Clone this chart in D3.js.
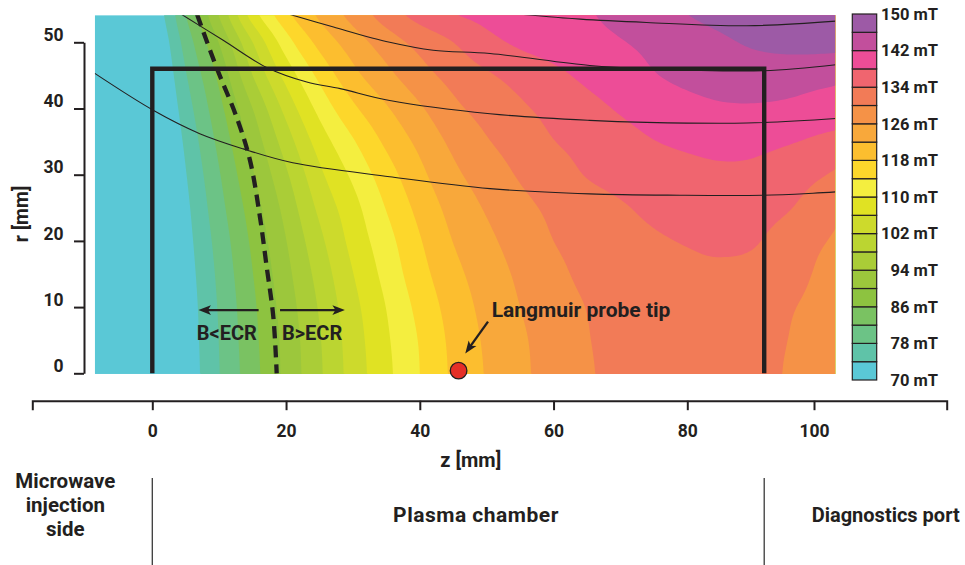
<!DOCTYPE html>
<html>
<head>
<meta charset="utf-8">
<script src="https://cdn.jsdelivr.net/npm/d3@7"></script>
<style>
    body { margin: 0; background: #fff; }
    svg { display: block; font-family: Roboto, "Open Sans", sans-serif; font-weight: 700; }
</style>
</head>
<body>
<svg id="chart" width="965" height="565"></svg>
<script>
// grid of the field map, z along the axis and r radius, both in mm
const zGrid = [-10, -5, 0, 5, 10, 15, 20, 25, 30, 35, 40, 45, 50, 55, 60, 65, 70, 75, 80, 85, 90, 95, 100, 105]
const rGrid = [0, 5, 10, 15, 20, 25, 30, 35, 40, 45, 50, 55]

// |B| in mT, one row per r value
const fieldB = [
    [56.4, 60.4, 64.4, 71.1, 77.9, 84.5, 91.1, 97.4, 103.7, 109.0, 114.0, 118.7, 122.3, 125.2, 127.5, 129.6, 131.0, 132.0, 132.5, 132.5, 131.8, 129.7, 128.5, 127.5],
    [56.6, 60.6, 64.6, 71.3, 78.1, 84.8, 91.3, 97.7, 104.0, 109.4, 114.3, 119.0, 122.6, 125.4, 127.7, 129.8, 131.2, 132.2, 132.7, 132.7, 132.0, 130.0, 128.8, 127.8],
    [56.6, 60.6, 64.6, 71.5, 78.4, 85.2, 91.9, 98.4, 104.7, 110.1, 115.2, 119.7, 123.2, 126.0, 128.2, 130.1, 131.6, 132.5, 133.0, 133.0, 132.3, 130.4, 129.1, 128.2],
    [56.8, 60.8, 64.8, 71.9, 78.9, 85.9, 92.8, 99.5, 105.9, 111.3, 116.5, 120.8, 124.0, 126.7, 129.0, 130.9, 132.2, 133.0, 133.4, 133.5, 133.0, 131.5, 129.5, 128.5],
    [57.0, 61.0, 65.0, 72.4, 79.6, 86.8, 93.9, 101.0, 107.3, 112.5, 117.7, 122.1, 125.1, 127.7, 130.0, 131.4, 132.7, 133.6, 134.2, 134.6, 134.3, 132.3, 130.3, 129.0],
    [57.5, 61.5, 65.5, 73.0, 80.6, 88.0, 95.4, 102.9, 108.6, 114.2, 119.2, 123.4, 126.4, 128.9, 130.8, 132.2, 133.6, 134.8, 135.6, 136.0, 135.6, 134.3, 131.9, 129.9],
    [57.8, 61.8, 65.8, 73.8, 81.7, 89.6, 97.4, 105.1, 110.8, 116.2, 121.0, 125.1, 127.9, 130.4, 132.3, 134.2, 135.4, 136.3, 137.0, 137.4, 137.2, 136.0, 134.3, 132.6],
    [58.3, 62.3, 66.3, 74.8, 83.1, 91.5, 100.0, 107.8, 113.6, 118.8, 123.0, 126.9, 129.7, 131.8, 133.9, 135.2, 136.6, 137.9, 138.6, 139.0, 138.9, 138.3, 137.3, 136.5],
    [59.1, 63.1, 67.1, 76.1, 84.8, 94.0, 103.3, 111.2, 117.2, 121.6, 125.5, 129.1, 131.4, 133.4, 135.2, 136.8, 138.4, 139.8, 140.8, 141.5, 141.6, 141.2, 140.3, 139.8],
    [59.9, 63.9, 67.9, 77.7, 87.0, 98.0, 107.4, 115.0, 120.8, 124.9, 128.5, 131.3, 133.5, 135.4, 137.1, 138.8, 140.3, 141.8, 142.9, 143.7, 144.0, 143.9, 143.3, 142.7],
    [61.1, 65.1, 69.1, 79.6, 90.2, 102.0, 112.2, 119.2, 124.0, 128.0, 131.3, 134.0, 136.9, 138.6, 139.7, 140.7, 141.8, 142.9, 144.2, 145.4, 146.5, 147.1, 147.3, 147.2],
    [62.8, 66.8, 70.8, 82.2, 94.8, 108.7, 117.4, 123.1, 127.7, 132.3, 136.0, 138.3, 139.2, 140.1, 141.0, 141.8, 143.2, 144.8, 146.2, 147.3, 148.3, 149.0, 149.4, 149.5]
]

const levels = [74, 78, 82, 86, 90, 94, 98, 102, 106, 110, 114, 118, 122, 126, 130, 134, 138, 142, 146]
const bandColors = ["#5ac8d6", "#5fc3a8", "#6cc386", "#7ac262", "#8dc340", "#9cc73c", "#aacd37", "#bbd531",
    "#cdda2c", "#e0e223", "#f4ee3f", "#fdd72b", "#fcbe2f", "#f8a83b", "#f59247", "#f27b57",
    "#f0656f", "#ed4d97", "#c24f9c", "#9d5aa6"]
const barTicks = [150, 142, 134, 126, 118, 110, 102, 94, 86, 78, 70]

const zTicks = [0, 20, 40, 60, 80, 100]
const rTicks = [0, 10, 20, 30, 40, 50]

// thin lines (field lines), [z, r]
const fluxLines = [
    [[-8.6, 45.3], [0.2, 39.7], [7.1, 36.2], [13.6, 33.9], [21.0, 31.8], [35.5, 29.7], [50.5, 27.9], [65.4, 27.1], [78.9, 26.9], [91.3, 26.9], [98.8, 27.2], [102.2, 27.4]],
    [[4.4, 54.2], [10.6, 50.3], [17.1, 46.2], [23.1, 44.0], [28.1, 43.0], [35.5, 41.2], [50.5, 39.2], [65.4, 38.2], [73.9, 37.9], [88.9, 37.8], [102.2, 38.5]],
    [[20.6, 54.2], [27.1, 52.3], [35.5, 50.0], [42.0, 48.8], [50.5, 48.3], [65.4, 46.5], [73.9, 46.0], [91.4, 45.7], [102.2, 46.6]],
    [[55.5, 54.2], [64.0, 53.5], [73.9, 53.0], [88.9, 52.5], [102.2, 53.2]]
]
const ecrBoundary = [[6.7, 54.2], [9.6, 46.2], [12.6, 38.7], [14.6, 32.2], [16.1, 23.6], [17.1, 16.1], [18.1, 8.5], [18.6, 0]]

const chamberEnd = 91.5
const chamberRadius = 46
const probe = [45.8, 0.4]
const probeArrow = [[50.2, 7.8], [46.8, 3.0]]
const ecrArrows = [[[15.9, 9.55], [6.9, 9.55]], [[19.1, 9.55], [28.8, 9.55]]]

const plotZ = [-8.6, 102.1]
const plotR = [0, 54.1]

const ink = "#231f20"
const svg = d3.select("#chart")

const x = d3.scaleLinear().domain([0, 80]).range([152.3, 687.3])
const y = d3.scaleLinear().domain([0, 50]).range([373.3, 42.3])
// the printed z axis is not quite linear past 80 mm
const xAxisScale = d3.scaleLinear().domain([-18, 0, 80, 100, 121]).range([32.3, 152.3, 687.3, 814, 946.7])
const cb = d3.scaleLinear().domain([70, 150]).range([380, 14])

function catmull(p0, p1, p2, p3, t) {
    return p1 + 0.5 * t * (p2 - p0 + t * (2 * p0 - 5 * p1 + 4 * p2 - p3 + t * (3 * (p1 - p2) + p3 - p0)))
}

function fieldAt(z, r) {
    const u = (z - zGrid[0]) / (zGrid[1] - zGrid[0])
    const v = (r - rGrid[0]) / (rGrid[1] - rGrid[0])
    const i = Math.min(Math.floor(u), zGrid.length - 2)
    const j = Math.min(Math.floor(v), rGrid.length - 2)
    const ci = function (k) { return Math.max(0, Math.min(zGrid.length - 1, k)) }
    const cj = function (k) { return Math.max(0, Math.min(rGrid.length - 1, k)) }
    const rows = [-1, 0, 1, 2].map(function (dj) {
        const row = fieldB[cj(j + dj)]
        return catmull(row[ci(i - 1)], row[ci(i)], row[ci(i + 1)], row[ci(i + 2)], u - i)
    })
    return catmull(rows[0], rows[1], rows[2], rows[3], v - j)
}

// resample the read grid finely so the band edges come out smooth
const step = 0.5
const nz = Math.round((zGrid[zGrid.length - 1] - zGrid[0]) / step) + 1
const nr = Math.round((rGrid[rGrid.length - 1] - rGrid[0]) / step) + 1
const values = new Float64Array(nz * nr)
for (let j = 0; j < nr; j++) {
    for (let i = 0; i < nz; i++) {
        values[j * nz + i] = fieldAt(zGrid[0] + i * step, rGrid[0] + j * step)
    }
}

const contours = d3.contours().size([nz, nr]).thresholds(levels)(values)
const toPx = d3.geoTransform({
    point: function (cx, cy) {
        this.stream.point(x(zGrid[0] + (cx - 0.5) * step), y(rGrid[0] + (cy - 0.5) * step))
    }
})
const geo = d3.geoPath(toPx)

svg.append("defs").append("clipPath").attr("id", "plotclip")
    .append("rect")
    .attr("x", x(plotZ[0]))
    .attr("y", y(plotR[1]))
    .attr("width", x(plotZ[1]) - x(plotZ[0]))
    .attr("height", y(plotR[0] - 0.1) - y(plotR[1]))

svg.select("defs").append("marker")
    .attr("id", "head")
    .attr("markerUnits", "userSpaceOnUse")
    .attr("viewBox", "-13 -6 14 12")
    .attr("markerWidth", 14).attr("markerHeight", 12)
    .attr("refX", 0).attr("refY", 0)
    .attr("orient", "auto")
    .append("path")
    .attr("d", "M0,0L-12.5,-4.8L-9.5,0L-12.5,4.8Z")
    .attr("fill", ink)

const plot = svg.append("g").attr("clip-path", "url(#plotclip)")

plot.append("rect")
    .attr("x", x(plotZ[0])).attr("y", y(plotR[1]))
    .attr("width", x(plotZ[1]) - x(plotZ[0]))
    .attr("height", y(plotR[0] - 0.1) - y(plotR[1]))
    .attr("fill", bandColors[0])

plot.append("g")
    .selectAll("path")
    .data(contours)
    .enter().append("path")
    .attr("d", geo)
    .attr("fill", function (d, i) { return bandColors[i + 1] })

const curve = d3.line()
    .x(function (d) { return x(d[0]) })
    .y(function (d) { return y(d[1]) })
    .curve(d3.curveCatmullRom.alpha(0.5))

plot.append("g")
    .selectAll("path")
    .data(fluxLines)
    .enter().append("path")
    .attr("d", curve)
    .attr("fill", "none")
    .attr("stroke", ink)
    .attr("stroke-width", 1.1)

plot.append("path")
    .attr("d", curve(ecrBoundary))
    .attr("fill", "none")
    .attr("stroke", ink)
    .attr("stroke-width", 4.3)
    .attr("stroke-dasharray", "12,7")

// chamber outline, open at the axis
plot.append("path")
    .attr("d", "M" + x(0) + "," + y(0) + "V" + y(chamberRadius) + "H" + x(chamberEnd) + "V" + y(0))
    .attr("fill", "none")
    .attr("stroke", ink)
    .attr("stroke-width", 4.4)

function arrow(g, pts) {
    const x0 = x(pts[0][0]), y0 = y(pts[0][1]), x1 = x(pts[1][0]), y1 = y(pts[1][1])
    const len = Math.hypot(x1 - x0, y1 - y0)
    const k = (len - 8) / len
    g.append("line")
        .attr("x1", x0).attr("y1", y0)
        .attr("x2", x0 + (x1 - x0) * k).attr("y2", y0 + (y1 - y0) * k)
        .attr("stroke", ink).attr("stroke-width", 2.3)
    g.append("line")
        .attr("x1", x0 + (x1 - x0) * k).attr("y1", y0 + (y1 - y0) * k)
        .attr("x2", x1).attr("y2", y1)
        .attr("stroke", "none")
        .attr("marker-end", "url(#head)")
}

const notes = svg.append("g")
ecrArrows.forEach(function (a) { arrow(notes, a) })
arrow(notes, probeArrow)

notes.append("text").attr("x", x(11.15)).attr("y", y(5.1))
    .attr("text-anchor", "middle").attr("font-size", 20).attr("fill", ink).text("B<ECR")
notes.append("text").attr("x", x(23.9)).attr("y", y(5.1))
    .attr("text-anchor", "middle").attr("font-size", 20).attr("fill", ink).text("B>ECR")
notes.append("text").attr("x", x(50.75)).attr("y", y(8.55))
    .attr("font-size", 21).attr("fill", ink).text("Langmuir probe tip")

notes.append("circle")
    .attr("cx", x(probe[0])).attr("cy", y(probe[1]))
    .attr("r", 8.3)
    .attr("fill", "#e52f27")
    .attr("stroke", ink)
    .attr("stroke-width", 1.3)

// axes
const gx = svg.append("g")
    .attr("transform", "translate(0,400.7)")
    .call(d3.axisBottom(xAxisScale).tickValues(zTicks).tickSize(9.5).tickPadding(14))
const gy = svg.append("g")
    .attr("transform", "translate(84,0)")
    .call(d3.axisLeft(y).tickValues(rTicks).tickSize(10).tickSizeOuter(0).tickPadding(10.5))

;[gx, gy].forEach(function (g) {
    g.attr("font-family", null).attr("font-size", null)
    g.select(".domain").attr("stroke", ink).attr("stroke-width", 2)
    g.selectAll(".tick line").attr("stroke", ink).attr("stroke-width", 2)
    g.selectAll(".tick text").attr("fill", ink).attr("font-size", 17.5)
})
gy.selectAll(".tick text").attr("dy", -1.8)

svg.append("text")
    .attr("x", 470.8).attr("y", 467)
    .attr("text-anchor", "middle").attr("font-size", 20).attr("fill", ink)
    .text("z [mm]")
svg.append("text")
    .attr("transform", "translate(28,214) rotate(-90)")
    .attr("text-anchor", "middle").attr("font-size", 19.5).attr("fill", ink)
    .text("r [mm]")

// colour bar
const bar = svg.append("g")
bar.selectAll("rect")
    .data(bandColors)
    .enter().append("rect")
    .attr("x", 852.3)
    .attr("y", function (d, i) { return cb(70 + 4 * (i + 1)) })
    .attr("width", 24.4)
    .attr("height", function (d, i) { return cb(70 + 4 * i) - cb(70 + 4 * (i + 1)) })
    .attr("fill", function (d) { return d })
    .attr("stroke", ink)
    .attr("stroke-width", 1.2)

bar.selectAll("text")
    .data(barTicks)
    .enter().append("text")
    .attr("x", 938)
    .attr("y", function (d) { return cb(d) })
    .attr("dy", "0.35em")
    .attr("text-anchor", "end")
    .attr("font-size", 16.5)
    .attr("fill", ink)
    .text(function (d) { return d + " mT" })

// regions under the axis
const regions = svg.append("g").attr("fill", ink).attr("font-size", 21)
;[0, chamberEnd].forEach(function (z) {
    regions.append("line")
        .attr("x1", x(z)).attr("x2", x(z))
        .attr("y1", 478).attr("y2", 565)
        .attr("stroke", "#3a3a3a").attr("stroke-width", 1.3)
})
const injection = regions.append("text").attr("text-anchor", "middle").attr("font-size", 20.5)
;["Microwave", "injection", "side"].forEach(function (w, i) {
    injection.append("tspan").attr("x", x(-13)).attr("y", 488 + 24 * i).text(w)
})
regions.append("text").attr("x", x(48.4)).attr("y", 521.5)
    .attr("text-anchor", "middle").attr("letter-spacing", 0.5).text("Plasma chamber")
regions.append("text").attr("x", x(98.6)).attr("y", 521.5)
    .attr("font-size", 20).text("Diagnostics port")
</script>
</body>
</html>
